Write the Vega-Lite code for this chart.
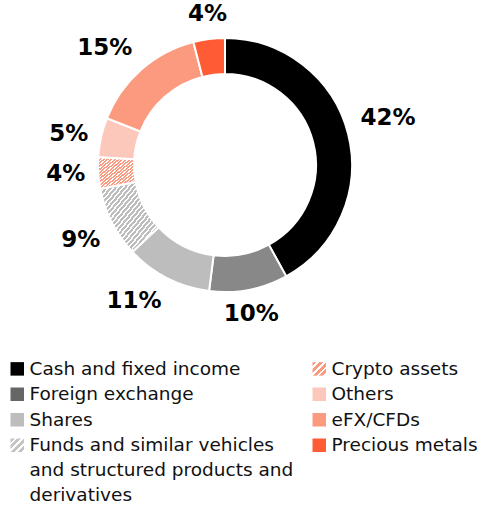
{
  "$schema": "https://vega.github.io/schema/vega-lite/v6.json",
  "width": 450,
  "height": 330,
  "padding": 0,
  "background": "white",
  "config": {"view": {"stroke": null}, "style": {"guide-label": {"lineHeight": 25}}},
  "data": {"values": [
    {"category": "Cash and fixed income", "share": 0.42, "rank": 1},
    {"category": "Foreign exchange", "share": 0.10, "rank": 2},
    {"category": "Shares", "share": 0.11, "rank": 3},
    {"category": "Funds and similar vehicles and structured products and derivatives", "share": 0.09, "rank": 4},
    {"category": "Crypto assets", "share": 0.04, "rank": 5},
    {"category": "Others", "share": 0.05, "rank": 6},
    {"category": "eFX/CFDs", "share": 0.15, "rank": 7},
    {"category": "Precious metals", "share": 0.04, "rank": 8}
  ]},
  "encoding": {
    "theta": {"field": "share", "type": "quantitative", "stack": true},
    "order": {"field": "rank", "type": "quantitative"}
  },
  "layer": [
    {
      "mark": {"type": "arc", "innerRadius": 91, "outerRadius": 127, "stroke": "white", "strokeWidth": 2},
      "encoding": {
        "color": {
          "condition": [
            {"test": "datum.category === 'Crypto assets'", "value": {"gradient": "linear", "x1": 0, "y1": 0, "x2": 1, "y2": 1, "stops": [
              {"offset":0,"color":"#fa9a80"},{"offset":0.03,"color":"#fa9a80"},{"offset":0.03,"color":"#ffffff"},{"offset":0.05,"color":"#ffffff"},
              {"offset":0.05,"color":"#fa9a80"},{"offset":0.08,"color":"#fa9a80"},{"offset":0.08,"color":"#ffffff"},{"offset":0.1,"color":"#ffffff"},
              {"offset":0.1,"color":"#fa9a80"},{"offset":0.13,"color":"#fa9a80"},{"offset":0.13,"color":"#ffffff"},{"offset":0.15,"color":"#ffffff"},
              {"offset":0.15,"color":"#fa9a80"},{"offset":0.18,"color":"#fa9a80"},{"offset":0.18,"color":"#ffffff"},{"offset":0.2,"color":"#ffffff"},
              {"offset":0.2,"color":"#fa9a80"},{"offset":0.23,"color":"#fa9a80"},{"offset":0.23,"color":"#ffffff"},{"offset":0.25,"color":"#ffffff"},
              {"offset":0.25,"color":"#fa9a80"},{"offset":0.28,"color":"#fa9a80"},{"offset":0.28,"color":"#ffffff"},{"offset":0.3,"color":"#ffffff"},
              {"offset":0.3,"color":"#fa9a80"},{"offset":0.33,"color":"#fa9a80"},{"offset":0.33,"color":"#ffffff"},{"offset":0.35,"color":"#ffffff"},
              {"offset":0.35,"color":"#fa9a80"},{"offset":0.38,"color":"#fa9a80"},{"offset":0.38,"color":"#ffffff"},{"offset":0.4,"color":"#ffffff"},
              {"offset":0.4,"color":"#fa9a80"},{"offset":0.43,"color":"#fa9a80"},{"offset":0.43,"color":"#ffffff"},{"offset":0.45,"color":"#ffffff"},
              {"offset":0.45,"color":"#fa9a80"},{"offset":0.48,"color":"#fa9a80"},{"offset":0.48,"color":"#ffffff"},{"offset":0.5,"color":"#ffffff"},
              {"offset":0.5,"color":"#fa9a80"},{"offset":0.53,"color":"#fa9a80"},{"offset":0.53,"color":"#ffffff"},{"offset":0.55,"color":"#ffffff"},
              {"offset":0.55,"color":"#fa9a80"},{"offset":0.58,"color":"#fa9a80"},{"offset":0.58,"color":"#ffffff"},{"offset":0.6,"color":"#ffffff"},
              {"offset":0.6,"color":"#fa9a80"},{"offset":0.63,"color":"#fa9a80"},{"offset":0.63,"color":"#ffffff"},{"offset":0.65,"color":"#ffffff"},
              {"offset":0.65,"color":"#fa9a80"},{"offset":0.68,"color":"#fa9a80"},{"offset":0.68,"color":"#ffffff"},{"offset":0.7,"color":"#ffffff"},
              {"offset":0.7,"color":"#fa9a80"},{"offset":0.73,"color":"#fa9a80"},{"offset":0.73,"color":"#ffffff"},{"offset":0.75,"color":"#ffffff"},
              {"offset":0.75,"color":"#fa9a80"},{"offset":0.78,"color":"#fa9a80"},{"offset":0.78,"color":"#ffffff"},{"offset":0.8,"color":"#ffffff"},
              {"offset":0.8,"color":"#fa9a80"},{"offset":0.83,"color":"#fa9a80"},{"offset":0.83,"color":"#ffffff"},{"offset":0.85,"color":"#ffffff"},
              {"offset":0.85,"color":"#fa9a80"},{"offset":0.88,"color":"#fa9a80"},{"offset":0.88,"color":"#ffffff"},{"offset":0.9,"color":"#ffffff"},
              {"offset":0.9,"color":"#fa9a80"},{"offset":0.93,"color":"#fa9a80"},{"offset":0.93,"color":"#ffffff"},{"offset":0.95,"color":"#ffffff"},
              {"offset":0.95,"color":"#fa9a80"},{"offset":0.98,"color":"#fa9a80"},{"offset":0.98,"color":"#ffffff"},{"offset":1,"color":"#ffffff"}
            ]}},
            {"test": "datum.rank === 4", "value": {"gradient": "linear", "x1": 0, "y1": 0, "x2": 1, "y2": 1, "stops": [
              {"offset":0,"color":"#bdbdbd"},{"offset":0.024,"color":"#bdbdbd"},{"offset":0.024,"color":"#ffffff"},{"offset":0.04,"color":"#ffffff"},
              {"offset":0.04,"color":"#bdbdbd"},{"offset":0.064,"color":"#bdbdbd"},{"offset":0.064,"color":"#ffffff"},{"offset":0.08,"color":"#ffffff"},
              {"offset":0.08,"color":"#bdbdbd"},{"offset":0.104,"color":"#bdbdbd"},{"offset":0.104,"color":"#ffffff"},{"offset":0.12,"color":"#ffffff"},
              {"offset":0.12,"color":"#bdbdbd"},{"offset":0.144,"color":"#bdbdbd"},{"offset":0.144,"color":"#ffffff"},{"offset":0.16,"color":"#ffffff"},
              {"offset":0.16,"color":"#bdbdbd"},{"offset":0.184,"color":"#bdbdbd"},{"offset":0.184,"color":"#ffffff"},{"offset":0.2,"color":"#ffffff"},
              {"offset":0.2,"color":"#bdbdbd"},{"offset":0.224,"color":"#bdbdbd"},{"offset":0.224,"color":"#ffffff"},{"offset":0.24,"color":"#ffffff"},
              {"offset":0.24,"color":"#bdbdbd"},{"offset":0.264,"color":"#bdbdbd"},{"offset":0.264,"color":"#ffffff"},{"offset":0.28,"color":"#ffffff"},
              {"offset":0.28,"color":"#bdbdbd"},{"offset":0.304,"color":"#bdbdbd"},{"offset":0.304,"color":"#ffffff"},{"offset":0.32,"color":"#ffffff"},
              {"offset":0.32,"color":"#bdbdbd"},{"offset":0.344,"color":"#bdbdbd"},{"offset":0.344,"color":"#ffffff"},{"offset":0.36,"color":"#ffffff"},
              {"offset":0.36,"color":"#bdbdbd"},{"offset":0.384,"color":"#bdbdbd"},{"offset":0.384,"color":"#ffffff"},{"offset":0.4,"color":"#ffffff"},
              {"offset":0.4,"color":"#bdbdbd"},{"offset":0.424,"color":"#bdbdbd"},{"offset":0.424,"color":"#ffffff"},{"offset":0.44,"color":"#ffffff"},
              {"offset":0.44,"color":"#bdbdbd"},{"offset":0.464,"color":"#bdbdbd"},{"offset":0.464,"color":"#ffffff"},{"offset":0.48,"color":"#ffffff"},
              {"offset":0.48,"color":"#bdbdbd"},{"offset":0.504,"color":"#bdbdbd"},{"offset":0.504,"color":"#ffffff"},{"offset":0.52,"color":"#ffffff"},
              {"offset":0.52,"color":"#bdbdbd"},{"offset":0.544,"color":"#bdbdbd"},{"offset":0.544,"color":"#ffffff"},{"offset":0.56,"color":"#ffffff"},
              {"offset":0.56,"color":"#bdbdbd"},{"offset":0.584,"color":"#bdbdbd"},{"offset":0.584,"color":"#ffffff"},{"offset":0.6,"color":"#ffffff"},
              {"offset":0.6,"color":"#bdbdbd"},{"offset":0.624,"color":"#bdbdbd"},{"offset":0.624,"color":"#ffffff"},{"offset":0.64,"color":"#ffffff"},
              {"offset":0.64,"color":"#bdbdbd"},{"offset":0.664,"color":"#bdbdbd"},{"offset":0.664,"color":"#ffffff"},{"offset":0.68,"color":"#ffffff"},
              {"offset":0.68,"color":"#bdbdbd"},{"offset":0.704,"color":"#bdbdbd"},{"offset":0.704,"color":"#ffffff"},{"offset":0.72,"color":"#ffffff"},
              {"offset":0.72,"color":"#bdbdbd"},{"offset":0.744,"color":"#bdbdbd"},{"offset":0.744,"color":"#ffffff"},{"offset":0.76,"color":"#ffffff"},
              {"offset":0.76,"color":"#bdbdbd"},{"offset":0.784,"color":"#bdbdbd"},{"offset":0.784,"color":"#ffffff"},{"offset":0.8,"color":"#ffffff"},
              {"offset":0.8,"color":"#bdbdbd"},{"offset":0.824,"color":"#bdbdbd"},{"offset":0.824,"color":"#ffffff"},{"offset":0.84,"color":"#ffffff"},
              {"offset":0.84,"color":"#bdbdbd"},{"offset":0.864,"color":"#bdbdbd"},{"offset":0.864,"color":"#ffffff"},{"offset":0.88,"color":"#ffffff"},
              {"offset":0.88,"color":"#bdbdbd"},{"offset":0.904,"color":"#bdbdbd"},{"offset":0.904,"color":"#ffffff"},{"offset":0.92,"color":"#ffffff"},
              {"offset":0.92,"color":"#bdbdbd"},{"offset":0.944,"color":"#bdbdbd"},{"offset":0.944,"color":"#ffffff"},{"offset":0.96,"color":"#ffffff"},
              {"offset":0.96,"color":"#bdbdbd"},{"offset":0.984,"color":"#bdbdbd"},{"offset":0.984,"color":"#ffffff"},{"offset":1,"color":"#ffffff"}
            ]}},
            {"test": "datum.category === 'Foreign exchange'", "value": "#888888"}
          ],
          "field": "category",
          "type": "nominal",
          "scale": {
            "domain": ["Cash and fixed income", "Foreign exchange", "Shares", "Funds and similar vehicles and structured products and derivatives", "Crypto assets", "Others", "eFX/CFDs", "Precious metals"],
            "range": [
              "#000000",
              "#666666",
              "#bdbdbd",
              {"expr": "{gradient: 'linear', x1: 0, y1: 0, x2: 1, y2: 1, stops: [{offset: 0, color: '#c4c4c4'}, {offset: 0.15, color: '#c4c4c4'}, {offset: 0.15, color: '#ffffff'}, {offset: 0.25, color: '#ffffff'}, {offset: 0.25, color: '#c4c4c4'}, {offset: 0.4, color: '#c4c4c4'}, {offset: 0.4, color: '#ffffff'}, {offset: 0.5, color: '#ffffff'}, {offset: 0.5, color: '#c4c4c4'}, {offset: 0.65, color: '#c4c4c4'}, {offset: 0.65, color: '#ffffff'}, {offset: 0.75, color: '#ffffff'}, {offset: 0.75, color: '#c4c4c4'}, {offset: 0.9, color: '#c4c4c4'}, {offset: 0.9, color: '#ffffff'}, {offset: 1, color: '#ffffff'}]}"},
              {"expr": "{gradient: 'linear', x1: 0, y1: 0, x2: 1, y2: 1, stops: [{offset: 0, color: '#fa9a80'}, {offset: 0.15, color: '#fa9a80'}, {offset: 0.15, color: '#ffffff'}, {offset: 0.25, color: '#ffffff'}, {offset: 0.25, color: '#fa9a80'}, {offset: 0.4, color: '#fa9a80'}, {offset: 0.4, color: '#ffffff'}, {offset: 0.5, color: '#ffffff'}, {offset: 0.5, color: '#fa9a80'}, {offset: 0.65, color: '#fa9a80'}, {offset: 0.65, color: '#ffffff'}, {offset: 0.75, color: '#ffffff'}, {offset: 0.75, color: '#fa9a80'}, {offset: 0.9, color: '#fa9a80'}, {offset: 0.9, color: '#ffffff'}, {offset: 1, color: '#ffffff'}]}"},
              "#fdc8bc",
              "#fc9a80",
              "#ff5c35"
            ]
          },
          "legend": {
            "orient": "none",
            "legendX": 8,
            "legendY": 359.5,
            "columns": 2,
            "title": null,
            "symbolType": "square",
            "symbolSize": 182,
            "symbolStrokeWidth": 0,
            "labelFont": "DejaVu Sans",
            "labelFontSize": 18.5,
            "labelColor": "#111111",
            "labelLimit": 400,
            "labelOffset": 3,
            "rowPadding": 6.5,
            "columnPadding": 16,
            "labelExpr": "datum.label === 'Funds and similar vehicles and structured products and derivatives' ? ['Funds and similar vehicles', 'and structured products and', 'derivatives'] : datum.label"
          }
        }
      }
    },
    {
      "mark": {
        "type": "text",
        "radius": 140,
        "font": "DejaVu Sans",
        "fontWeight": "bold",
        "fontSize": 23,
        "fill": "#000000",
        "align": {"expr": "sin(PI * (datum.share_start + datum.share_end)) > 0.3 ? 'left' : (sin(PI * (datum.share_start + datum.share_end)) < -0.3 ? 'right' : 'center')"},
        "baseline": {"expr": "cos(PI * (datum.share_start + datum.share_end)) > 0.23 ? 'bottom' : (cos(PI * (datum.share_start + datum.share_end)) < -0.3 ? 'top' : 'middle')"}
      },
      "encoding": {
        "text": {"field": "share", "type": "quantitative", "format": ".0%"}
      }
    }
  ]
}
